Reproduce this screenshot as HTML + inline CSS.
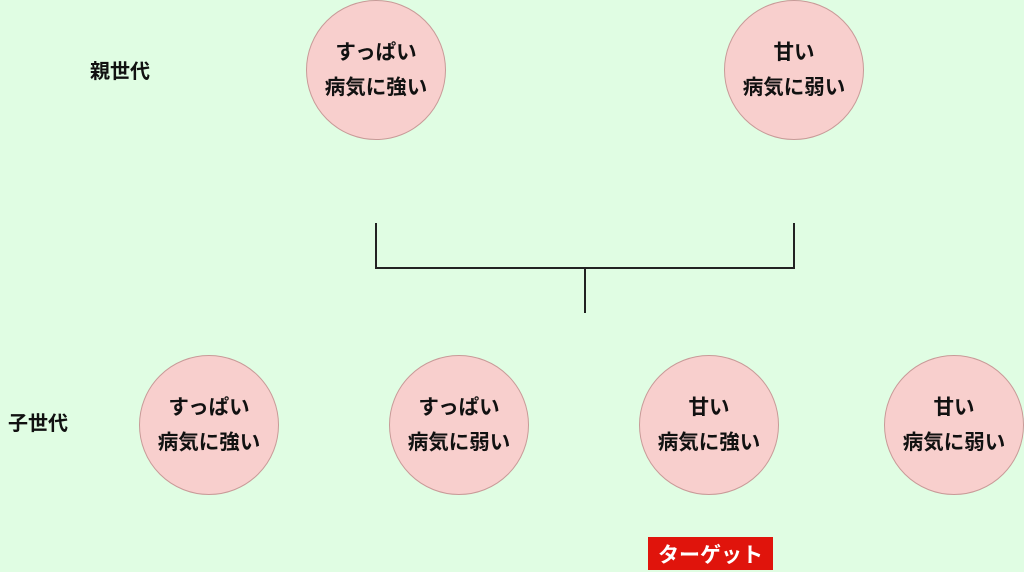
<!DOCTYPE html>
<html><head><meta charset="utf-8"><style>
body{margin:0;width:1024px;height:572px;background:#e0fde3;position:relative;overflow:hidden;font-family:"Liberation Sans","Noto Sans CJK JP",sans-serif;font-weight:bold;color:#111}
.c{position:absolute;width:138px;height:138px;border-radius:50%;background:#f8cfcd;border:1px solid #c89a98;display:flex;flex-direction:column;align-items:center;justify-content:center;font-size:20.5px;line-height:35px}
.l{position:absolute;font-size:20px;line-height:24px}
.ln{position:absolute;background:#222}
</style></head><body>
<div class="l" style="left:90px;top:60px">親世代</div>
<div class="l" style="left:8px;top:412px">子世代</div>
<div class="c" style="left:306px;top:0px"><div>すっぱい</div><div>病気に強い</div></div>
<div class="c" style="left:724px;top:0px"><div>甘い</div><div>病気に弱い</div></div>
<div class="c" style="left:139px;top:355px"><div>すっぱい</div><div>病気に強い</div></div>
<div class="c" style="left:389px;top:355px"><div>すっぱい</div><div>病気に弱い</div></div>
<div class="c" style="left:639px;top:355px"><div>甘い</div><div>病気に強い</div></div>
<div class="c" style="left:884px;top:355px"><div>甘い</div><div>病気に弱い</div></div>
<div class="ln" style="left:375px;top:223px;width:2px;height:46px"></div>
<div class="ln" style="left:793px;top:223px;width:2px;height:46px"></div>
<div class="ln" style="left:375px;top:267px;width:420px;height:2px"></div>
<div class="ln" style="left:584px;top:267px;width:2px;height:46px"></div>
<div style="position:absolute;left:648px;top:537px;width:125px;height:33px;background:#e0140c;color:#fff;font-size:21px;display:flex;align-items:center;justify-content:center">ターゲット</div>
</body></html>
